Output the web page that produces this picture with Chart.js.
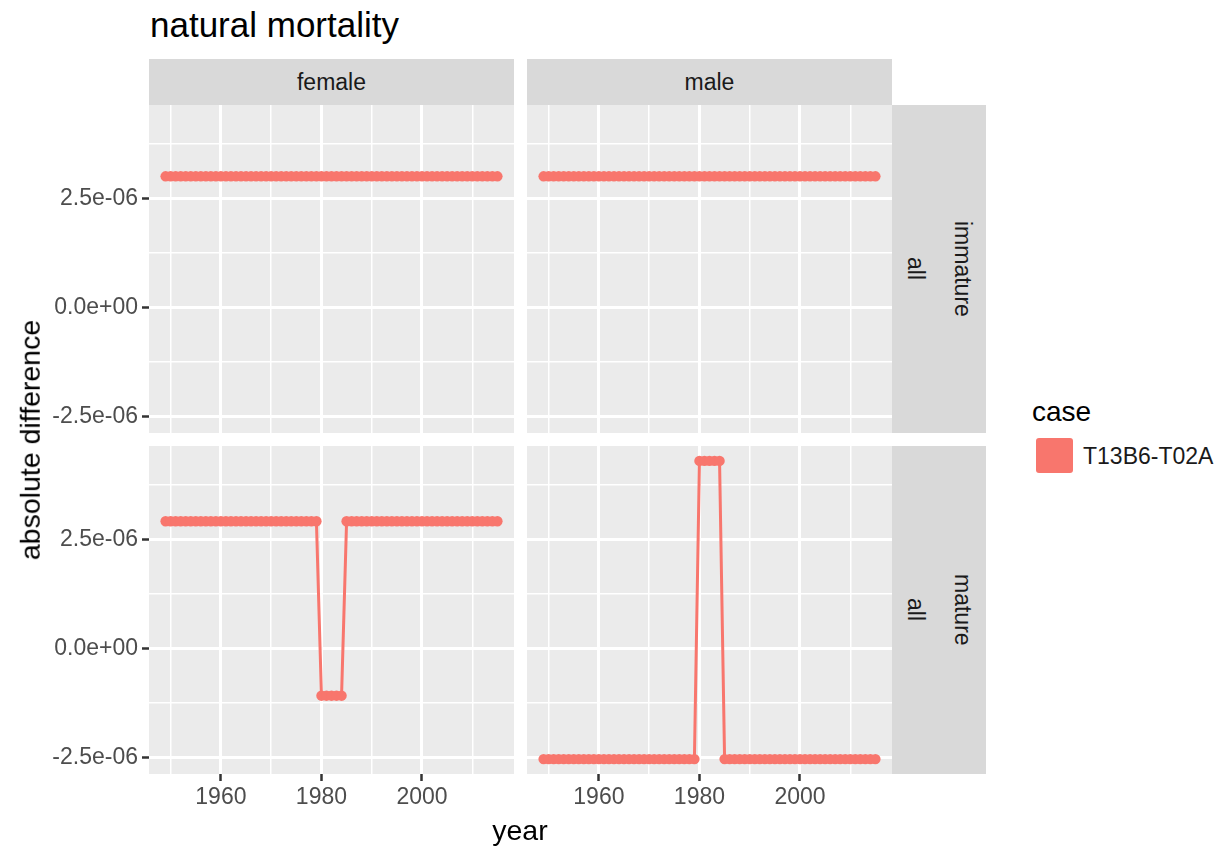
<!DOCTYPE html>
<html>
<head>
<meta charset="utf-8">
<title>natural mortality</title>
<script src="https://cdn.jsdelivr.net/npm/chart.js@4.4.0/dist/chart.umd.min.js"></script>
<style>
  body { margin: 0; background: #fff; font-family: "Liberation Sans", Arial, Helvetica, sans-serif; }
  #page { position: relative; width: 1224px; height: 848px; overflow: hidden; }
  canvas { position: absolute; }
  .txt { position: absolute; white-space: nowrap; line-height: 1; }
  .strip { position: absolute; background: #D9D9D9; color: #1A1A1A; font-size: 23px;
           display: flex; align-items: center; justify-content: center; }
  .vert { writing-mode: vertical-rl; }
</style>
</head>
<body>
<div id="page">
  <div class="txt" style="left:150px; top:7px; font-size:35px; color:#000;">natural mortality</div>

  <!-- column strips -->
  <div class="strip" style="left:149px; top:59px; width:365px; height:46px;">female</div>
  <div class="strip" style="left:527px; top:59px; width:365px; height:46px;">male</div>

  <!-- row strips -->
  <div class="strip" style="left:892px; top:105px; width:47px; height:328px;"><span class="vert">all</span></div>
  <div class="strip" style="left:939px; top:105px; width:47px; height:328px;"><span class="vert">immature</span></div>
  <div class="strip" style="left:892px; top:446px; width:47px; height:328px;"><span class="vert">all</span></div>
  <div class="strip" style="left:939px; top:446px; width:47px; height:328px;"><span class="vert">mature</span></div>

  <canvas id="femaleImm" width="514" height="328" style="left:0px; top:105px;"></canvas>
  <canvas id="maleImm" width="365" height="328" style="left:527px; top:105px;"></canvas>
  <canvas id="femaleMat" width="514" height="373" style="left:0px; top:446px;"></canvas>
  <canvas id="maleMat" width="365" height="373" style="left:527px; top:446px;"></canvas>

  <div class="txt" style="left:30px; top:440px; font-size:28.5px; transform:translate(-50%,-50%) rotate(-90deg);">absolute difference</div>
  <div class="txt" style="left:520px; top:830px; font-size:28.5px; transform:translate(-50%,-50%);">year</div>

  <!-- legend -->
  <div class="txt" style="left:1032px; top:398px; font-size:28px;">case</div>
  <div style="position:absolute; left:1036px; top:438px; width:37px; height:35px; background:#F8766D; border-radius:3px;"></div>
  <div class="txt" style="left:1083px; top:445px; font-size:23px; color:#1A1A1A;">T13B6-T02A</div>
</div>

<script>
const SERIES_COLOR = "#F8766D";

/* ===============================
   DATA
================================ */
const years = [
  1949, 1950, 1951, 1952, 1953, 1954, 1955, 1956, 1957, 1958,
  1959, 1960, 1961, 1962, 1963, 1964, 1965, 1966, 1967, 1968,
  1969, 1970, 1971, 1972, 1973, 1974, 1975, 1976, 1977, 1978,
  1979, 1980, 1981, 1982, 1983, 1984, 1985, 1986, 1987, 1988,
  1989, 1990, 1991, 1992, 1993, 1994, 1995, 1996, 1997, 1998,
  1999, 2000, 2001, 2002, 2003, 2004, 2005, 2006, 2007, 2008,
  2009, 2010, 2011, 2012, 2013, 2014, 2015
];

const femaleImmature = [
  3.0e-6, 3.0e-6, 3.0e-6, 3.0e-6, 3.0e-6, 3.0e-6, 3.0e-6, 3.0e-6, 3.0e-6, 3.0e-6,
  3.0e-6, 3.0e-6, 3.0e-6, 3.0e-6, 3.0e-6, 3.0e-6, 3.0e-6, 3.0e-6, 3.0e-6, 3.0e-6,
  3.0e-6, 3.0e-6, 3.0e-6, 3.0e-6, 3.0e-6, 3.0e-6, 3.0e-6, 3.0e-6, 3.0e-6, 3.0e-6,
  3.0e-6, 3.0e-6, 3.0e-6, 3.0e-6, 3.0e-6, 3.0e-6, 3.0e-6, 3.0e-6, 3.0e-6, 3.0e-6,
  3.0e-6, 3.0e-6, 3.0e-6, 3.0e-6, 3.0e-6, 3.0e-6, 3.0e-6, 3.0e-6, 3.0e-6, 3.0e-6,
  3.0e-6, 3.0e-6, 3.0e-6, 3.0e-6, 3.0e-6, 3.0e-6, 3.0e-6, 3.0e-6, 3.0e-6, 3.0e-6,
  3.0e-6, 3.0e-6, 3.0e-6, 3.0e-6, 3.0e-6, 3.0e-6, 3.0e-6
];

const maleImmature = [
  3.0e-6, 3.0e-6, 3.0e-6, 3.0e-6, 3.0e-6, 3.0e-6, 3.0e-6, 3.0e-6, 3.0e-6, 3.0e-6,
  3.0e-6, 3.0e-6, 3.0e-6, 3.0e-6, 3.0e-6, 3.0e-6, 3.0e-6, 3.0e-6, 3.0e-6, 3.0e-6,
  3.0e-6, 3.0e-6, 3.0e-6, 3.0e-6, 3.0e-6, 3.0e-6, 3.0e-6, 3.0e-6, 3.0e-6, 3.0e-6,
  3.0e-6, 3.0e-6, 3.0e-6, 3.0e-6, 3.0e-6, 3.0e-6, 3.0e-6, 3.0e-6, 3.0e-6, 3.0e-6,
  3.0e-6, 3.0e-6, 3.0e-6, 3.0e-6, 3.0e-6, 3.0e-6, 3.0e-6, 3.0e-6, 3.0e-6, 3.0e-6,
  3.0e-6, 3.0e-6, 3.0e-6, 3.0e-6, 3.0e-6, 3.0e-6, 3.0e-6, 3.0e-6, 3.0e-6, 3.0e-6,
  3.0e-6, 3.0e-6, 3.0e-6, 3.0e-6, 3.0e-6, 3.0e-6, 3.0e-6
];

const femaleMature = [
  2.91e-6, 2.91e-6, 2.91e-6, 2.91e-6, 2.91e-6, 2.91e-6, 2.91e-6, 2.91e-6, 2.91e-6, 2.91e-6,
  2.91e-6, 2.91e-6, 2.91e-6, 2.91e-6, 2.91e-6, 2.91e-6, 2.91e-6, 2.91e-6, 2.91e-6, 2.91e-6,
  2.91e-6, 2.91e-6, 2.91e-6, 2.91e-6, 2.91e-6, 2.91e-6, 2.91e-6, 2.91e-6, 2.91e-6, 2.91e-6,
  2.91e-6, -1.08e-6, -1.08e-6, -1.08e-6, -1.08e-6, -1.08e-6, 2.91e-6, 2.91e-6, 2.91e-6, 2.91e-6,
  2.91e-6, 2.91e-6, 2.91e-6, 2.91e-6, 2.91e-6, 2.91e-6, 2.91e-6, 2.91e-6, 2.91e-6, 2.91e-6,
  2.91e-6, 2.91e-6, 2.91e-6, 2.91e-6, 2.91e-6, 2.91e-6, 2.91e-6, 2.91e-6, 2.91e-6, 2.91e-6,
  2.91e-6, 2.91e-6, 2.91e-6, 2.91e-6, 2.91e-6, 2.91e-6, 2.91e-6
];

const maleMature = [
  -2.53e-6, -2.53e-6, -2.53e-6, -2.53e-6, -2.53e-6, -2.53e-6, -2.53e-6, -2.53e-6, -2.53e-6, -2.53e-6,
  -2.53e-6, -2.53e-6, -2.53e-6, -2.53e-6, -2.53e-6, -2.53e-6, -2.53e-6, -2.53e-6, -2.53e-6, -2.53e-6,
  -2.53e-6, -2.53e-6, -2.53e-6, -2.53e-6, -2.53e-6, -2.53e-6, -2.53e-6, -2.53e-6, -2.53e-6, -2.53e-6,
  -2.53e-6, 4.29e-6, 4.29e-6, 4.29e-6, 4.29e-6, 4.29e-6, -2.53e-6, -2.53e-6, -2.53e-6, -2.53e-6,
  -2.53e-6, -2.53e-6, -2.53e-6, -2.53e-6, -2.53e-6, -2.53e-6, -2.53e-6, -2.53e-6, -2.53e-6, -2.53e-6,
  -2.53e-6, -2.53e-6, -2.53e-6, -2.53e-6, -2.53e-6, -2.53e-6, -2.53e-6, -2.53e-6, -2.53e-6, -2.53e-6,
  -2.53e-6, -2.53e-6, -2.53e-6, -2.53e-6, -2.53e-6, -2.53e-6, -2.53e-6
];

// axis ticks (major + minor grid positions)
const xTicks = [1950, 1960, 1970, 1980, 1990, 2000, 2010];
const xLabelled = [1960, 1980, 2000];
const yTicks = [-2.5e-6, -1.25e-6, 0, 1.25e-6, 2.5e-6, 3.75e-6];
const yLabelled = [-2.5e-6, 0, 2.5e-6];

const X_MIN = 1945.7, X_MAX = 2018.3;
const Y_MIN = -2.871e-6, Y_MAX = 4.631e-6;

/* ===============================
   HELPERS
================================ */
function isLabelled(list, v) {
  return list.some(t => Math.abs(t - v) < 1e-12);
}

function sci(v) {
  if (Math.abs(v) < 1e-15) return "0.0e+00";
  return v.toExponential(1).replace(/e([+-])(\d+)$/, (m, s, d) => "e" + s + d.padStart(2, "0"));
}

function noPadding(s) {
  s.paddingLeft = 0;
  s.paddingRight = 0;
  s.paddingTop = 0;
  s.paddingBottom = 0;
}

const panelBg = {
  id: "panelBg",
  beforeDraw(chart) {
    const { ctx, chartArea: a } = chart;
    ctx.save();
    ctx.fillStyle = "#EBEBEB";
    ctx.fillRect(a.left, a.top, a.right - a.left, a.bottom - a.top);
    ctx.restore();
  }
};

/* ===============================
   PANELS
================================ */
function makePanel(id, values, showX, showY) {
  const points = years.map((yr, i) => ({ x: yr, y: values[i] }));

  return new Chart(document.getElementById(id), {
    type: "line",
    data: {
      datasets: [{
        data: points,
        borderColor: SERIES_COLOR,
        backgroundColor: SERIES_COLOR,
        borderWidth: 3,
        pointRadius: 5.2,
        pointBorderWidth: 0,
        pointBackgroundColor: SERIES_COLOR,
        tension: 0,
        fill: false,
        clip: 8
      }]
    },
    options: {
      responsive: false,
      animation: false,
      devicePixelRatio: 1,
      layout: { padding: 0, autoPadding: false },
      plugins: { legend: { display: false }, tooltip: { enabled: false } },
      scales: {
        x: {
          type: "linear",
          min: X_MIN,
          max: X_MAX,
          afterBuildTicks: s => { s.ticks = xTicks.map(v => ({ value: v })); },
          afterFit: s => { s.height = showX ? 45 : 0; noPadding(s); },
          border: { display: false },
          grid: {
            color: "#FFFFFF",
            lineWidth: c => (c.tick && isLabelled(xLabelled, c.tick.value)) ? 3 : 1.5,
            drawTicks: showX,
            tickLength: 7,
            tickWidth: 2.5,
            tickColor: c => (c.tick && isLabelled(xLabelled, c.tick.value)) ? "#333333" : "rgba(0,0,0,0)"
          },
          ticks: {
            display: showX,
            autoSkip: false,
            maxRotation: 0,
            padding: 3,
            color: "#4D4D4D",
            font: { family: "'Liberation Sans', Arial, sans-serif", size: 23 },
            callback: v => isLabelled(xLabelled, v) ? String(v) : ""
          }
        },
        y: {
          type: "linear",
          min: Y_MIN,
          max: Y_MAX,
          afterBuildTicks: s => { s.ticks = yTicks.map(v => ({ value: v })); },
          afterFit: s => { s.width = showY ? 149 : 0; noPadding(s); },
          border: { display: false },
          grid: {
            color: "#FFFFFF",
            lineWidth: c => (c.tick && isLabelled(yLabelled, c.tick.value)) ? 3 : 1.5,
            drawTicks: showY,
            tickLength: 7,
            tickWidth: 2.5,
            tickColor: c => (c.tick && isLabelled(yLabelled, c.tick.value)) ? "#333333" : "rgba(0,0,0,0)"
          },
          ticks: {
            display: showY,
            autoSkip: false,
            padding: 4,
            color: "#4D4D4D",
            font: { family: "'Liberation Sans', Arial, sans-serif", size: 23 },
            callback: v => isLabelled(yLabelled, v) ? sci(v) : ""
          }
        }
      }
    },
    plugins: [panelBg]
  });
}

/* ===============================
   INIT
================================ */
makePanel("femaleImm", femaleImmature, false, true);
makePanel("maleImm", maleImmature, false, false);
makePanel("femaleMat", femaleMature, true, true);
makePanel("maleMat", maleMature, true, false);
</script>
</body>
</html>
